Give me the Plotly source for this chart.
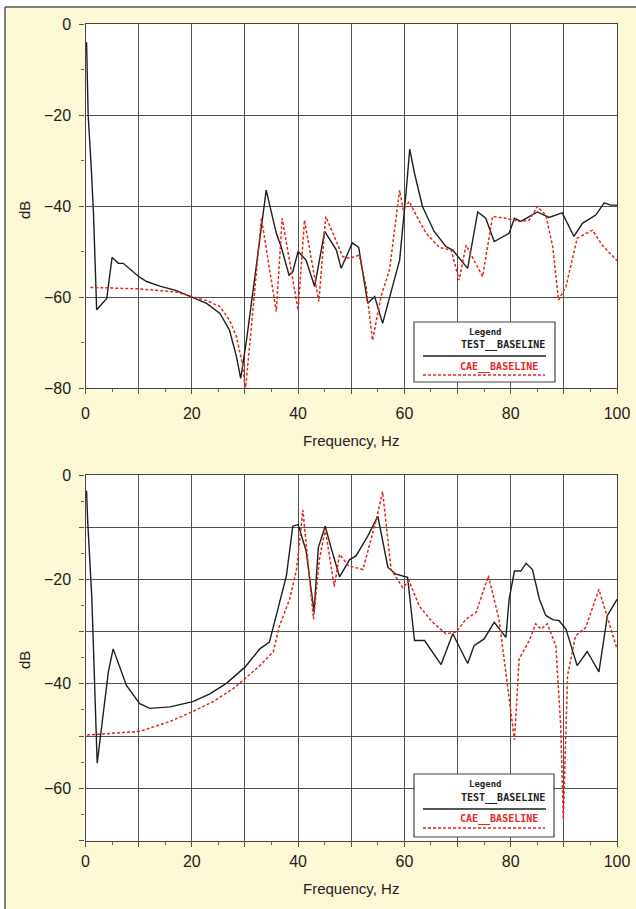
import plotly.graph_objects as go

# ---------------- data ----------------
top_test_f = [0.2, 0.5, 1.1, 1.5, 2.1, 4.0, 5.0, 6.2, 7.1, 10.0, 11.5, 14.0, 17.1, 20.2, 22.8, 25.3, 27.1, 28.4,
              29.2, 30.3, 32.8, 34.0, 35.9, 36.8, 38.3, 39.0, 40.0, 41.5, 43.1, 45.0, 47.2, 48.1, 50.2, 51.4, 53.1,
              54.4, 55.9, 59.1, 60.3, 61.0, 61.9, 63.4, 65.6, 67.8, 69.1, 71.9, 73.8, 75.3, 76.9, 79.7, 80.7, 81.9,
              85.0, 87.2, 89.7, 91.9, 93.5, 96.0, 97.6, 98.8, 100]
top_test_db = [-4, -20, -32, -41.5, -62.8, -60.3, -51.3, -52.6, -52.6, -55.5, -56.6, -57.6, -58.6, -60.1, -61.4,
               -63.6, -67.3, -73.1, -77.9, -69.5, -46.7, -36.5, -46, -48.9, -55.2, -54.4, -50, -51.9, -57.7, -45.6,
               -49.7, -53.7, -48.1, -49.1, -61.4, -59.9, -65.8, -51.9, -37.2, -27.5, -32.8, -40.1, -45.6, -48.9,
               -49.7, -53.7, -41.3, -42.7, -47.8, -46, -42.7, -43.4, -41.3, -42.5, -41.5, -46.7, -43.8, -42, -39.3,
               -39.8, -39.8]

top_cae_f = [0.9, 10, 17, 20.2, 22.8, 25.3, 27.1, 28.4, 29.5, 30.1, 33.1, 35.9, 37.0, 40.0, 41.2, 43.9, 45.2, 47.2,
             48.4, 49.7, 51.5, 52.8, 54.0, 55.6, 57.2, 59.1, 59.8, 60.9, 62.2, 64.1, 66.6, 68.8, 70.3, 71.6, 74.7,
             76.6, 79.1, 81.6, 83.5, 85.0, 86.6, 87.9, 89.0, 90.4, 92.5, 95.4, 97.2, 100]
top_cae_db = [-57.9, -58.2, -58.9, -59.9, -60.8, -62.1, -65.1, -68.7, -74.6, -80.4, -42.7, -63.2, -42.7, -62.9,
              -43.1, -61, -42.3, -47.8, -51.1, -51.5, -50.8, -57.7, -69.5, -59.9, -54, -36.5, -40.9, -39, -42, -46,
              -49.1, -49.7, -56.3, -48.6, -55.5, -42.3, -42.7, -43.4, -43.1, -40.1, -42, -48.9, -60.7, -57.7, -47.1,
              -45.3, -48.6, -52]

bot_test_f = [0.2, 0.4, 1.2, 2.2, 4.3, 5.2, 7.7, 10.2, 12.1, 15.9, 20.2, 23.4, 26.5, 30.0, 32.8, 34.6, 36.2, 37.8,
              39.0, 40.0, 41.5, 43.0, 43.8, 45.1, 46.3, 47.8, 49.7, 50.9, 53.1, 55.0, 56.9, 58.4, 60.6, 61.9, 63.8,
              66.9, 69.1, 71.9, 73.1, 75.0, 76.9, 79.1, 79.7, 80.7, 81.9, 82.9, 84.1, 85.4, 86.6, 87.9, 89.1, 90.4,
              92.5, 94.4, 96.6, 98.2, 100]
bot_test_db = [-3, -8.6, -23.8, -55.2, -37.7, -33.3, -40.3, -43.8, -44.7, -44.4, -43.4, -41.9, -39.9, -36.8, -33.3,
               -32.0, -25.7, -19.3, -9.8, -9.5, -14.5, -26.2, -13.9, -9.8, -14.3, -19.5, -16.2, -15.5, -11.7, -7.9,
               -17.7, -19.0, -19.6, -31.7, -31.7, -36.3, -30.4, -36.1, -32.7, -31.4, -28.2, -31.1, -23.8, -18.4,
               -18.4, -16.9, -18.1, -23.8, -26.9, -27.7, -27.9, -29.5, -36.5, -33.8, -37.7, -26.9, -23.8]

bot_cae_f = [0.3, 10.2, 15.9, 20.2, 24.0, 27.8, 30.0, 32.8, 35.3, 36.5, 38.4, 39.7, 40.9, 41.8, 42.9, 44.0, 45.1,
             46.8, 47.8, 49.5, 52.2, 54.7, 55.9, 57.5, 59.7, 60.9, 62.8, 65.3, 67.8, 69.7, 71.6, 73.5, 75.8, 77.8,
             79.1, 80.7, 81.6, 83.5, 84.7, 85.7, 86.9, 88.5, 89.4, 89.9, 90.7, 92.2, 94.1, 96.6, 97.9, 100]
bot_cae_db = [-49.8, -49.1, -47.2, -45.3, -43.4, -40.9, -39.0, -36.5, -33.9, -28.9, -23.8, -18.1, -6.7, -15.5,
              -27.6, -16.2, -10.3, -21.4, -15.2, -17.4, -18.1, -8.6, -3.2, -18.1, -21.6, -20.3, -25.1, -28.2, -30.4,
              -30.1, -27.6, -26.3, -19.3, -27.6, -38.4, -50.7, -35.2, -31.7, -28.5, -29.5, -28.5, -32.7, -47.9,
              -66.0, -38.4, -30.8, -29.2, -21.9, -26.3, -33.3]

x_ticks = list(range(0, 101, 10))
x_labels = [str(v) if v % 20 == 0 else "" for v in x_ticks]
top_y_ticks = [0, -20, -40, -60, -80]
bot_y_ticks = list(range(0, -71, -10))
bot_y_labels = [("\u2212" + str(-v) if v < 0 else "0") if v % 20 == 0 else "" for v in bot_y_ticks]
top_y_labels = [("\u2212" + str(-v) if v < 0 else "0") for v in top_y_ticks]
x_title = "Frequency, Hz"
y_title = "dB"
legend_title = "Legend"
test_name = "TEST__BASELINE"
cae_name = "CAE__BASELINE"

# ---------------- layout helpers ----------------
W, H = 636, 909
def px(x):
    return x / W
def py(y):
    return 1 - y / H

CREAM = "#fdf8d6"
BLACK = "#1e1e1e"
RED = "#e3271f"
GRID = "#525252"
FONT = "Liberation Sans, Arial, sans-serif"

fig = go.Figure()
line_test = dict(color=BLACK, width=1.4)
line_cae = dict(color=RED, width=1.5, dash="3px,2px")

fig.add_trace(go.Scatter(x=top_test_f, y=top_test_db, mode="lines", line=line_test, name=test_name,
                         xaxis="x", yaxis="y"))
fig.add_trace(go.Scatter(x=top_cae_f, y=top_cae_db, mode="lines", line=line_cae, name=cae_name,
                         xaxis="x", yaxis="y"))
fig.add_trace(go.Scatter(x=bot_test_f, y=bot_test_db, mode="lines", line=line_test, name=test_name,
                         xaxis="x2", yaxis="y2"))
fig.add_trace(go.Scatter(x=bot_cae_f, y=bot_cae_db, mode="lines", line=line_cae, name=cae_name,
                         xaxis="x2", yaxis="y2"))

xdom = [px(85.5), px(617)]
top_dom = [py(388), py(24)]
bot_dom = [py(840.5), py(475)]

axis_common = dict(showline=True, linecolor="#444", linewidth=1.4, mirror=True,
                   showgrid=True, gridcolor=GRID, gridwidth=1.4, zeroline=False,
                   ticks="outside", ticklen=5, tickwidth=1.2, tickcolor="#555",
                   tickfont=dict(family=FONT, size=16, color="#222"), automargin=False,
                   ticklabelstandoff=5)

minor_x = dict(tick0=0, dtick=5, ticks="outside", ticklen=3, tickcolor="#666", showgrid=False)

fig.update_layout(
    width=W, height=H,
    margin=dict(l=0, r=0, t=0, b=0),
    paper_bgcolor=CREAM, plot_bgcolor="white",
    showlegend=False,
    xaxis=dict(axis_common, range=[0, 100], tickmode="array", tickvals=x_ticks, ticktext=x_labels,
               domain=xdom, minor=minor_x, anchor="y", ticklabelstandoff=6),
    yaxis=dict(axis_common, range=[-80, 0], tickmode="array", tickvals=top_y_ticks, ticktext=top_y_labels,
               domain=top_dom, anchor="x",
               minor=dict(tick0=0, dtick=10, ticks="outside", ticklen=3, tickcolor="#666", showgrid=False)),
    xaxis2=dict(axis_common, range=[0, 100], tickmode="array", tickvals=x_ticks, ticktext=x_labels,
                domain=xdom, minor=minor_x, anchor="y2", ticklabelstandoff=1),
    yaxis2=dict(axis_common, range=[-70, 0], tickmode="array", tickvals=bot_y_ticks, ticktext=bot_y_labels,
                domain=bot_dom, anchor="x2",
                minor=dict(tick0=0, dtick=5, ticks="outside", ticklen=3, tickcolor="#666", showgrid=False)),
)

shapes = []
annotations = []

# outer frame (white page edge + dark border)
shapes.append(dict(type="rect", xref="paper", yref="paper", x0=0, x1=px(5), y0=0, y1=1,
                   fillcolor="white", line=dict(width=0)))
shapes.append(dict(type="rect", xref="paper", yref="paper", x0=0, x1=1, y0=py(7), y1=1,
                   fillcolor="white", line=dict(width=0)))
shapes.append(dict(type="line", xref="paper", yref="paper", x0=px(5), x1=px(5), y0=0, y1=py(7),
                   line=dict(color="#555", width=1.5)))
shapes.append(dict(type="line", xref="paper", yref="paper", x0=px(5), x1=1, y0=py(7), y1=py(7),
                   line=dict(color="#555", width=1.5)))

# axis titles
for ty, dy in [(440, 210), (888, 660)]:
    annotations.append(dict(xref="paper", yref="paper", x=px(351), y=py(ty), text=x_title, showarrow=False,
                            font=dict(family=FONT, size=15, color="#222"), xanchor="center", yanchor="middle"))
    annotations.append(dict(xref="paper", yref="paper", x=px(24), y=py(dy), text=y_title, showarrow=False,
                            textangle=-90, font=dict(family=FONT, size=15, color="#222"),
                            xanchor="center", yanchor="middle"))

# legend boxes
LFONT = "DejaVu Sans Mono, Liberation Mono, monospace"
for (bx0, bx1, by0, by1, yl, yt, ysl, yc, ydl) in [
        (414, 555, 322, 382, 331.5, 345, 356, 366.5, 375),
        (414, 554, 774, 837, 784, 798, 809, 819, 828)]:
    shapes.append(dict(type="rect", xref="paper", yref="paper", x0=px(bx0), x1=px(bx1), y0=py(by1), y1=py(by0),
                       fillcolor="white", line=dict(color="#444", width=1.2), layer="above"))
    shapes.append(dict(type="line", xref="paper", yref="paper", x0=px(423), x1=px(546), y0=py(ysl), y1=py(ysl),
                       line=dict(color=BLACK, width=1.3), layer="above"))
    shapes.append(dict(type="line", xref="paper", yref="paper", x0=px(423), x1=px(545), y0=py(ydl), y1=py(ydl),
                       line=dict(color=RED, width=1.5, dash="3px,2px"), layer="above"))
    annotations.append(dict(xref="paper", yref="paper", x=px(485), y=py(yl), text="<b>" + legend_title + "</b>",
                            showarrow=False, font=dict(family=LFONT, size=9, color="#222"),
                            xanchor="center", yanchor="middle"))
    annotations.append(dict(xref="paper", yref="paper", x=px(547), y=py(yt), text="<b>" + test_name + "</b>",
                            showarrow=False, font=dict(family=LFONT, size=10, color="#222"),
                            xanchor="right", yanchor="middle"))
    annotations.append(dict(xref="paper", yref="paper", x=px(540), y=py(yc), text="<b>" + cae_name + "</b>",
                            showarrow=False, font=dict(family=LFONT, size=10, color=RED),
                            xanchor="right", yanchor="middle"))

fig.update_layout(shapes=shapes, annotations=annotations)
fig.write_html("out.html")
